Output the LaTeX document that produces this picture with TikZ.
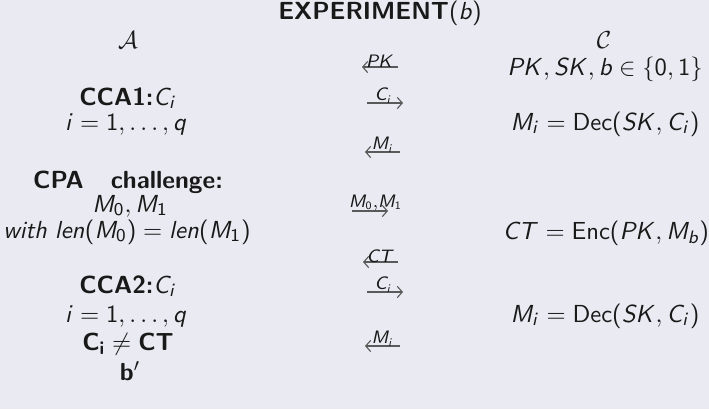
\documentclass[tikz,border=0pt]{standalone}
\usepackage{amsmath}
\usetikzlibrary{arrows.meta}
\renewcommand\familydefault{\sfdefault}
\DeclareSymbolFont{sfops}{OT1}{cmss}{m}{n}
\DeclareSymbolFont{sflet}{OT1}{cmss}{m}{sl}
\DeclareMathAlphabet{\mathbsf}{OT1}{cmss}{bx}{n}
\makeatletter
\@tfor\ch:=abcdefghijklmnopqrstuvwxyzABCDEFGHIJKLMNOPQRSTUVWXYZ\do{%
  \edef\tmp{\noexpand\DeclareMathSymbol{\ch}{\noexpand\mathalpha}{sflet}{`\ch}}\tmp}
\@tfor\ch:=0123456789\do{%
  \edef\tmp{\noexpand\DeclareMathSymbol{\ch}{\noexpand\mathalpha}{sfops}{`\ch}}\tmp}
\makeatother
\DeclareMathSymbol{(}{\mathopen}{sfops}{"28}
\DeclareMathSymbol{)}{\mathclose}{sfops}{"29}
\definecolor{bgc}{RGB}{234,234,242}
\definecolor{txc}{RGB}{25,25,25}
\definecolor{arc}{RGB}{90,90,90}
\begin{document}
\begin{tikzpicture}[x=0.4444pt,y=-0.4444pt,
  txt/.style={anchor=base,inner sep=0pt,text=txc,font=\fontsize{11}{13}\selectfont},
  msg/.style={draw=arc,line width=0.5pt,>={Straight Barb[length=2.2pt,width=5pt,line width=0.5pt]}},
  lbl/.style={above,inner sep=0pt,yshift=-0.3pt,text=txc,font=\fontsize{11}{13}\selectfont}]
\fill[bgc] (0,0) rectangle (709,409);
\useasboundingbox (0,0) rectangle (709,409);
% title
\node[txt] (title) at (380,19) {\textbf{EXPERIMENT}$(b)$};
% left column
\node[txt] (A) at (128,48) {$\mathcal{A}$};
\node[txt] (cca1) at (128,105) {\textbf{CCA1:}$C_i$};
\node[txt] (iq1) at (126,130) {$i=1,\ldots,q$};
\node[txt] (cpa) at (128,188) {\textbf{CPA\hspace{12pt}challenge:}};
\node[txt] (m01) at (130,212) {$M_0, M_1$};
\node[txt] (len) at (127,238) {\textsl{with} $len(M_0)=len(M_1)$};
\node[txt] (cca2) at (128,293) {\textbf{CCA2:}$C_i$};
\node[txt] (iq2) at (126,322) {$i=1,\ldots,q$};
\node[txt] (neq) at (128,350) {$\mathbsf{C_i}\neq\mathbsf{CT}$};
\node[txt] (bp) at (130,380) {$\mathbsf{b}'$};
% right column
\node[txt] (C) at (604,48) {$\mathcal{C}$};
\node[txt] (keys) at (605,75) {$PK, SK, b\in\{0,1\}$};
\node[txt] (dec1) at (605,130) {$M_i=\mathsf{Dec}(SK,C_i)$};
\node[txt] (enc) at (606,239) {$CT=\mathsf{Enc}(PK,M_b)$};
\node[txt] (dec2) at (605,322) {$M_i=\mathsf{Dec}(SK,C_i)$};
% arrows
\coordinate (a1l) at (362,67); \coordinate (a1r) at (398,67);
\coordinate (a2l) at (367,103); \coordinate (a2r) at (403,103);
\coordinate (a3l) at (365,152); \coordinate (a3r) at (400,152);
\coordinate (a4l) at (352,211); \coordinate (a4r) at (388,211);
\coordinate (a5l) at (363,262); \coordinate (a5r) at (398,262);
\coordinate (a6l) at (367,292); \coordinate (a6r) at (403,292);
\coordinate (a7l) at (365,346); \coordinate (a7r) at (400,346);
\draw[msg,<-] (a1l) -- (a1r) node[lbl,midway] (l1) {$\scriptstyle PK$};
\draw[msg,->] (a2l) -- (a2r) node[lbl,pos=0.45] (l2) {$\scriptstyle C_i$};
\draw[msg,<-] (a3l) -- (a3r) node[lbl,midway] (l3) {$\scriptstyle M_i$};
\draw[msg,->] (a4l) -- (a4r) node[lbl,pos=0.65] (l4) {$\scriptstyle M_0,M_1$};
\draw[msg,<-] (a5l) -- (a5r) node[lbl,midway] (l5) {$\scriptstyle CT$};
\draw[msg,->] (a6l) -- (a6r) node[lbl,pos=0.45] (l6) {$\scriptstyle C_i$};
\draw[msg,<-] (a7l) -- (a7r) node[lbl,midway] (l7) {$\scriptstyle M_i$};
\end{tikzpicture}
\end{document}
